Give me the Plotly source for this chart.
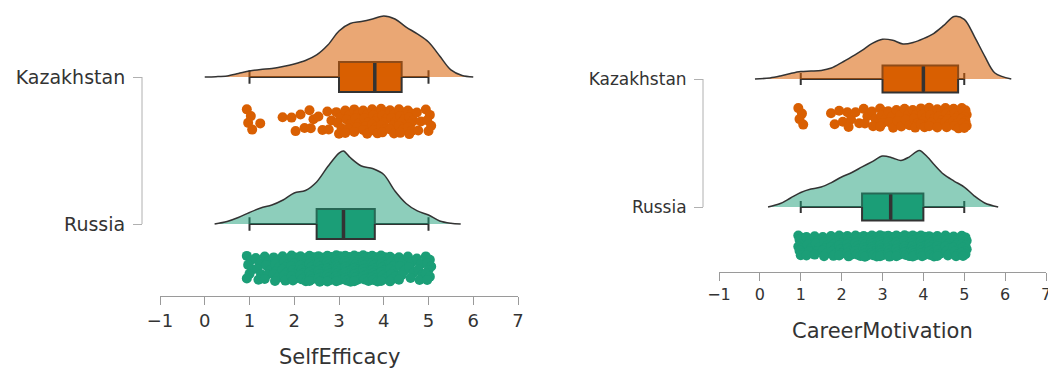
import plotly.graph_objects as go

# ---------------------------------------------------------------- data
groups = ["Kazakhstan", "Russia"]
variables = ["SelfEfficacy", "CareerMotivation"]
tick_values = [-1, 0, 1, 2, 3, 4, 5, 6, 7]

# score levels (scale means) and number of respondents at each level
grid_levels = [1.0, 1.2, 1.4, 1.6, 1.8, 2.0, 2.2, 2.4, 2.6, 2.8, 3.0,
               3.2, 3.4, 3.6, 3.8, 4.0, 4.2, 4.4, 4.6, 4.8, 5.0]

se_kz_levels = [1.0, 1.3, 1.8, 2.0, 2.2, 2.4, 2.6, 2.8, 3.0, 3.2,
                3.4, 3.6, 3.8, 4.0, 4.2, 4.4, 4.6, 4.8, 5.0]
se_kz_counts = [4, 1, 1, 2, 2, 3, 2, 3, 5, 6, 6, 7, 9, 8, 7, 8, 8, 3, 5]

se_ru_levels = grid_levels
se_ru_counts = [6, 5, 6, 8, 10, 13, 14, 16, 18, 21, 26, 24, 21, 19, 19, 16, 11, 6, 5, 5, 8]

cm_kz_levels = [1.0, 1.8, 2.0, 2.2, 2.4, 2.6, 2.8, 3.0, 3.2, 3.4,
                3.6, 3.8, 4.0, 4.2, 4.4, 4.6, 4.8, 5.0]
cm_kz_counts = [4, 2, 2, 3, 2, 3, 3, 6, 4, 4, 4, 5, 7, 6, 6, 8, 9, 10]

cm_ru_levels = grid_levels
cm_ru_counts = [10, 6, 6, 8, 10, 11, 13, 14, 18, 19, 21, 18, 16, 19, 21, 18, 14, 11, 10, 10, 13]

# box summaries: lower whisker, Q1, median, Q3, upper whisker
se_kz_box = [1.0, 3.0, 3.8, 4.4, 5.0]
se_ru_box = [1.0, 2.5, 3.1, 3.8, 5.0]
cm_kz_box = [1.0, 3.0, 4.0, 4.85, 5.0]
cm_ru_box = [1.0, 2.5, 3.2, 4.0, 5.0]

# kernel density estimates
se_kz_dens_x = [0.0, 0.25, 0.5, 0.75, 1.0, 1.25, 1.5, 1.75, 2.0, 2.25, 2.5, 2.75, 3.0,
                3.25, 3.5, 3.75, 4.0, 4.25, 4.5, 4.75, 5.0, 5.25, 5.5, 5.75, 6.0]
se_kz_dens_y = [0, 0.002, 0.007, 0.023, 0.040, 0.050, 0.057, 0.070, 0.087, 0.110, 0.147,
                0.213, 0.307, 0.357, 0.370, 0.387, 0.407, 0.387, 0.333, 0.287, 0.233,
                0.140, 0.047, 0.010, 0]

se_ru_dens_x = [0.22, 0.5, 0.75, 1.0, 1.25, 1.5, 1.75, 2.0, 2.25, 2.5, 2.75, 3.0, 3.1,
                3.25, 3.5, 3.75, 4.0, 4.25, 4.5, 4.75, 5.0, 5.25, 5.5, 5.72]
se_ru_dens_y = [0, 0.017, 0.043, 0.077, 0.107, 0.127, 0.160, 0.207, 0.223, 0.280, 0.383,
                0.473, 0.487, 0.443, 0.387, 0.370, 0.330, 0.220, 0.137, 0.087, 0.060,
                0.020, 0.005, 0]

cm_kz_dens_x = [-0.12, 0.25, 0.5, 0.75, 1.0, 1.25, 1.5, 1.75, 2.0, 2.25, 2.5, 2.75, 3.0,
                3.25, 3.5, 3.75, 4.0, 4.25, 4.5, 4.75, 5.0, 5.25, 5.5, 5.75, 6.15]
cm_kz_dens_y = [0, 0.007, 0.020, 0.037, 0.050, 0.053, 0.057, 0.073, 0.109, 0.149, 0.191,
                0.237, 0.265, 0.258, 0.233, 0.243, 0.269, 0.303, 0.357, 0.417, 0.397,
                0.283, 0.153, 0.040, 0]

cm_ru_dens_x = [0.2, 0.5, 0.75, 1.0, 1.25, 1.5, 1.75, 2.0, 2.25, 2.5, 2.75, 3.0, 3.25,
                3.45, 3.65, 3.9, 4.1, 4.25, 4.5, 4.75, 5.0, 5.25, 5.5, 5.83]
cm_ru_dens_y = [0, 0.023, 0.060, 0.097, 0.120, 0.133, 0.163, 0.200, 0.230, 0.267, 0.303,
                0.340, 0.327, 0.310, 0.333, 0.377, 0.333, 0.287, 0.217, 0.173, 0.133,
                0.073, 0.027, 0]

# ---------------------------------------------------------------- styling
W, H = 1048, 370
FONT = "DejaVu Sans"
TEXT = "#333333"
AXIS = "#9a9a9a"
OUTLINE = "#333333"
SOLID = {"Kazakhstan": "#D95F02", "Russia": "#1B9E77"}
LIGHT = {"Kazakhstan": "rgba(217,95,2,0.55)", "Russia": "rgba(27,158,119,0.5)"}
DENS_PX = 150  # pixels per density unit

# y axes run in pixel rows (top = 0) so rows can be placed precisely
panels = [
    dict(var="SelfEfficacy", xa="x", ya="y", x0=160, x1=518, axis_y=296, yline_x=142,
         rows={"Kazakhstan": 77, "Russia": 224}, cloud_off=44.5, cloud_half=13.5,
         box_w=30, cat_size=19, tick_size=18, title_y=357,
         data={"Kazakhstan": (se_kz_levels, se_kz_counts, se_kz_box, se_kz_dens_x, se_kz_dens_y),
               "Russia": (se_ru_levels, se_ru_counts, se_ru_box, se_ru_dens_x, se_ru_dens_y)}),
    dict(var="CareerMotivation", xa="x2", ya="y2", x0=719, x1=1046, axis_y=272, yline_x=703,
         rows={"Kazakhstan": 79, "Russia": 207}, cloud_off=39, cloud_half=11,
         box_w=27, cat_size=17, tick_size=16, title_y=331,
         data={"Kazakhstan": (cm_kz_levels, cm_kz_counts, cm_kz_box, cm_kz_dens_x, cm_kz_dens_y),
               "Russia": (cm_ru_levels, cm_ru_counts, cm_ru_box, cm_ru_dens_x, cm_ru_dens_y)}),
]


def cloud_points(levels, counts, centre, half):
    """Spread the respondents at each level across the rain band."""
    xs, ys = [], []
    for i, (v, n) in enumerate(zip(levels, counts)):
        phase = (i * 0.618) % 1.0
        for k in range(n):
            frac = (k + 0.2 + 0.6 * phase) / n
            xs.append(v + 0.06 * ((((i * 5 + k * 3) % 5) - 2) / 2))
            ys.append(centre + (2 * frac - 1) * half)
    return xs, ys


fig = go.Figure()
shapes, annotations = [], []

for p in panels:
    xa, ya = p["xa"], p["ya"]
    for g in groups:
        levels, counts, box, dx, dy = p["data"][g]
        base = p["rows"][g]

        # half-violin density cloud
        fig.add_trace(go.Scatter(
            x=dx, y=[base - d * DENS_PX for d in dy], xaxis=xa, yaxis=ya,
            mode="lines", line=dict(color=OUTLINE, width=1.5, shape="spline", smoothing=0.9),
            fill="toself", fillcolor=LIGHT[g], hoverinfo="skip", showlegend=False))

        # box plot
        lo, q1, med, q3, hi = box
        fig.add_trace(go.Box(
            y=[base], q1=[q1], median=[med], q3=[q3], lowerfence=[lo], upperfence=[hi],
            orientation="h", width=p["box_w"], whiskerwidth=0.45,
            fillcolor=SOLID[g], line=dict(color=OUTLINE, width=2),
            boxpoints=False, xaxis=xa, yaxis=ya, showlegend=False, hoverinfo="skip"))
        fig.add_trace(go.Scatter(
            x=[med, med], y=[base - p["box_w"] / 2 + 1, base + p["box_w"] / 2 - 1],
            xaxis=xa, yaxis=ya, mode="lines", line=dict(color=OUTLINE, width=3.5),
            hoverinfo="skip", showlegend=False))

        # rain of individual scores
        px_, py_ = cloud_points(levels, counts, base + p["cloud_off"], p["cloud_half"])
        fig.add_trace(go.Scatter(
            x=px_, y=py_, xaxis=xa, yaxis=ya, mode="markers",
            marker=dict(color=SOLID[g], size=10, line=dict(width=0)),
            hoverinfo="skip", showlegend=False))

    # category axis line between the two rows
    shapes.append(dict(type="line", xref="paper", yref=ya,
                       x0=p["yline_x"] / W, x1=p["yline_x"] / W,
                       y0=p["rows"]["Kazakhstan"], y1=p["rows"]["Russia"],
                       line=dict(color="#b0b0b0", width=1)))
    annotations.append(dict(text=p["var"], xref=xa, x=3, yref="paper",
                            y=(H - p["title_y"]) / H, xanchor="center", yanchor="middle",
                            showarrow=False, font=dict(family=FONT, size=21, color=TEXT)))

layout = dict(
    width=W, height=H, margin=dict(l=0, r=0, t=0, b=0, autoexpand=False),
    paper_bgcolor="white", plot_bgcolor="white",
    font=dict(family=FONT, color=TEXT),
    shapes=shapes, annotations=annotations, showlegend=False,
)

for idx, p in enumerate(panels):
    sfx = "" if idx == 0 else str(idx + 1)
    layout["xaxis" + sfx] = dict(
        domain=[p["x0"] / W, p["x1"] / W], range=[-1, 7], anchor="y" + sfx,
        tickmode="array", tickvals=tick_values, ticks="outside", ticklen=8,
        tickcolor=AXIS, showline=True, linecolor=AXIS, linewidth=1,
        showgrid=False, zeroline=False, automargin=False, ticklabeloverflow="allow",
        tickfont=dict(family=FONT, size=p["tick_size"], color=TEXT))
    layout["yaxis" + sfx] = dict(
        domain=[(H - p["axis_y"]) / H, 1], range=[p["axis_y"], 0],
        anchor="free", position=p["yline_x"] / W, automargin=False,
        tickmode="array", tickvals=[p["rows"][g] for g in groups], ticktext=groups,
        ticks="outside", ticklen=9, tickcolor="#b0b0b0", showline=False,
        showgrid=False, zeroline=False, ticklabelstandoff=4,
        tickfont=dict(family=FONT, size=p["cat_size"], color=TEXT))

fig.update_layout(**layout)
fig.write_html("out.html")
